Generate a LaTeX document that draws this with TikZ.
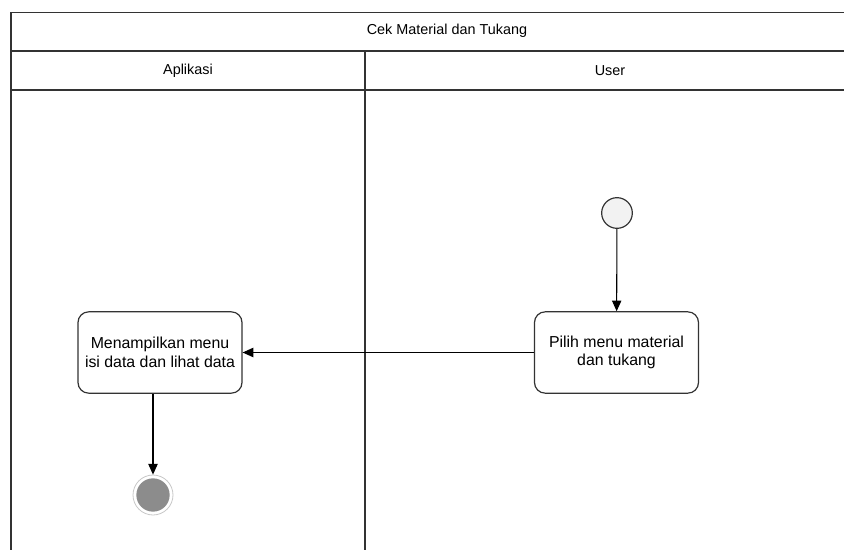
\documentclass[tikz,border=0pt]{standalone}
\usepackage{fontspec}
\setmainfont{Liberation Sans}
\usetikzlibrary{arrows.meta}
\definecolor{edge}{HTML}{333333}
\definecolor{startfill}{HTML}{F2F2F2}
\definecolor{endfill}{HTML}{8C8C8C}
\definecolor{endring}{HTML}{C8C8C8}
\tikzset{
  lane/.style={draw=edge, line width=1.1pt},
  action/.style={draw=edge, line width=0.9pt, rounded corners=8pt, fill=white,
    minimum width=123pt, minimum height=61pt, align=center, inner sep=2pt,
    font=\fontsize{11.9pt}{14pt}\selectfont},
  lanetitle/.style={font=\fontsize{10.8pt}{13pt}\selectfont},
  flow/.style={draw=black, line width=0.8pt, -{Triangle[length=8pt,width=7pt]}},
  startnode/.style={circle, draw=edge, line width=0.9pt, fill=startfill,
    minimum size=23pt, inner sep=0pt},
  endnode/.style={circle, draw=endring, line width=0.6pt, fill=white,
    minimum size=30pt, inner sep=0pt},
}
\begin{document}
\begin{tikzpicture}[x=0.75pt, y=-0.75pt]
  \useasboundingbox (0,0) rectangle (844,550);
  \fill[white] (0,0) rectangle (844,550);

  % pool and lanes
  \begin{scope}
    \clip (0,0) rectangle (844,550);
    \draw[lane] (11,560) -- (11,12.5) -- (860,12.5);
    \draw[lane] (11,51) -- (860,51);
    \draw[lane] (11,90) -- (860,90);
    \draw[lane] (365,51) -- (365,560);
  \end{scope}
  \node[lanetitle] (pool) at (447,31) {Cek Material dan Tukang};
  \node[lanetitle] (laneA) at (188,70.5) {Aplikasi};
  \node[lanetitle] (laneU) at (610,70.5) {User};

  % activity flow
  \node[startnode] (start) at (617,213) {};
  \node[action] (pilih) at (616.5,352.5) {Pilih menu material\\dan tukang};
  \node[action] (tampil) at (160,352.5) {Menampilkan menu\\isi data dan lihat data};
  \node[endnode] (end) at (153,495) {};
  \fill[endfill] (end.center) circle (12.5pt);

  \draw[flow] (start) -- (pilih);
  \draw[flow] (pilih) -- (tampil);
  \draw[flow] (tampil.south -| end) -- (end);
\end{tikzpicture}
\end{document}
